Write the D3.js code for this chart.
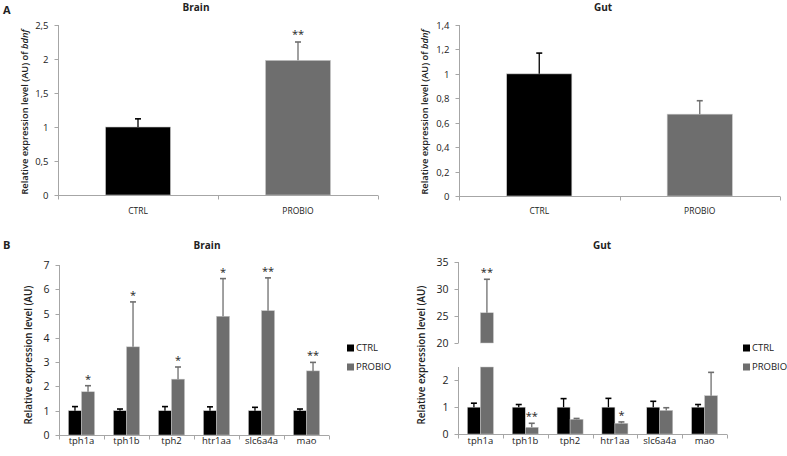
<!DOCTYPE html>
<html><head><meta charset="utf-8">
<script src="https://cdn.jsdelivr.net/npm/d3@7"></script>
<style>body{margin:0;background:#fff;} text{font-family:"Open Sans","DejaVu Sans",sans-serif;fill:#222;}</style>
</head><body><svg id="c" width="787" height="456"></svg>
<script>
// ---------- data ----------
const groups = ["CTRL", "PROBIO"];
const bdnfBrain = [1.0, 1.98];
const bdnfBrainErr = [0.12, 0.27];
const bdnfBrainSig = ["", "**"];
const bdnfGut = [1.0, 0.67];
const bdnfGutErr = [0.17, 0.11];
const bdnfGutSig = ["", ""];
const bdnfBrainTicks = ["0", "0,5", "1", "1,5", "2", "2,5"];
const bdnfGutTicks = ["0", "0,2", "0,4", "0,6", "0,8", "1", "1,2", "1,4"];

const genes = ["tph1a", "tph1b", "tph2", "htr1aa", "slc6a4a", "mao"];
const brainCtrl = [1, 1, 1, 1, 1, 1];
const brainCtrlErr = [0.17, 0.07, 0.17, 0.16, 0.14, 0.07];
const brainProbio = [1.78, 3.63, 2.3, 4.89, 5.12, 2.64];
const brainProbioErr = [0.25, 1.85, 0.5, 1.55, 1.35, 0.35];
const brainSig = ["*", "*", "*", "*", "**", "**"];
const gutCtrl = [1, 1, 1, 1, 1, 1];
const gutCtrlErr = [0.15, 0.1, 0.32, 0.33, 0.22, 0.1];
const gutProbio = [25.6, 0.25, 0.55, 0.4, 0.88, 1.43];
const gutProbioErr = [6.2, 0.15, 0.03, 0.05, 0.1, 0.87];
const gutSig = ["**", "**", "", "*", "", ""];

const colors = {CTRL: "#000000", PROBIO: "#6e6e6e"};
const axisColor = "#a6a6a6";

const svg = d3.select("#c");

function axisLine(g, x1, y1, x2, y2) {
  g.append("line").attr("x1", x1).attr("y1", y1).attr("x2", x2).attr("y2", y2)
    .attr("stroke", axisColor).attr("stroke-width", 1);
}

function yAxisDraw(g, y, ticks, labels, x0, fs) {
  const [r0, r1] = y.range();
  axisLine(g, x0, r0, x0, r1);
  ticks.forEach((t, i) => {
    const yy = Math.round(y(t)) + 0.5;
    axisLine(g, x0 - 4, yy, x0, yy);
    g.append("text").attr("x", x0 - 10).attr("y", yy).attr("dy", "0.35em")
      .attr("text-anchor", "end").attr("font-size", fs).text(labels[i]);
  });
}

function xAxisDraw(g, x, y0, fs, labelY) {
  const [a, b] = x.range();
  axisLine(g, a, y0, b, y0);
  const n = x.domain().length;
  for (let i = 0; i <= n; i++) {
    const xx = Math.round(a + i * (b - a) / n) + 0.5;
    axisLine(g, xx, y0, xx, y0 + 4);
  }
  x.domain().forEach(c => {
    g.append("text").attr("x", x(c) + x.bandwidth() / 2).attr("y", labelY)
      .attr("text-anchor", "middle").attr("font-size", fs).text(c);
  });
}

function errBar(g, cx, yTop, yVal, color) {
  g.append("line").attr("x1", cx).attr("x2", cx).attr("y1", yVal).attr("y2", yTop)
    .attr("stroke", color).attr("stroke-width", 1.3);
  g.append("line").attr("x1", cx - 3).attr("x2", cx + 3).attr("y1", yTop).attr("y2", yTop)
    .attr("stroke", color).attr("stroke-width", 1.6);
}

// ---------- panel A ----------
function panelA(cfg) {
  const g = svg.append("g");
  const x = d3.scaleBand().domain(groups).range([cfg.x0, cfg.x1]).paddingInner(0.594).paddingOuter(0.297);
  const y = d3.scaleLinear().domain([0, cfg.max]).range([cfg.y0, 25]);
  yAxisDraw(g, y, cfg.tickVals, cfg.tickLabels, cfg.x0 + 0.5, 9.5);
  groups.forEach((c, i) => {
    const v = cfg.vals[i], e = cfg.errs[i];
    g.append("rect").attr("x", x(c)).attr("width", x.bandwidth())
      .attr("y", y(v)).attr("height", y(0) - y(v)).attr("fill", colors[c])
      .attr("stroke", "#c8c8c8").attr("stroke-width", 0.6);
    errBar(g, x(c) + x.bandwidth() / 2, y(v + e), y(v), colors[c]);
    if (cfg.sig[i]) g.append("text").attr("x", x(c) + x.bandwidth() / 2).attr("y", y(v + e) - 4)
      .attr("text-anchor", "middle").attr("font-size", 11).text(cfg.sig[i]);
  });
  xAxisDraw(g, x, cfg.y0 + 0.5, 8.5, 214);
  g.append("text").attr("x", cfg.titleX).attr("y", 11).attr("text-anchor", "middle")
    .attr("font-size", 10).attr("font-weight", "bold").text(cfg.title);
  const lab = g.append("text").attr("transform", `translate(${cfg.labX},112) rotate(-90)`)
    .attr("text-anchor", "middle").attr("font-size", 9.3).attr("font-weight", 600);
  lab.append("tspan").text("Relative expression level (AU) of ");
  lab.append("tspan").attr("font-style", "italic").text("bdnf");
}
panelA({x0: 58, x1: 378, y0: 195, max: 2.5, vals: bdnfBrain, errs: bdnfBrainErr, sig: bdnfBrainSig,
  tickVals: [0, 0.5, 1, 1.5, 2, 2.5], tickLabels: bdnfBrainTicks, title: "Brain", titleX: 196, labX: 28});
panelA({x0: 459, x1: 780, y0: 196, max: 1.4, vals: bdnfGut, errs: bdnfGutErr, sig: bdnfGutSig,
  tickVals: [0, 0.2, 0.4, 0.6, 0.8, 1, 1.2, 1.4], tickLabels: bdnfGutTicks, title: "Gut", titleX: 603, labX: 428});

svg.append("text").attr("x", 3).attr("y", 14).attr("font-size", 11).attr("font-weight", "bold").text("A");
svg.append("text").attr("x", 3).attr("y", 249).attr("font-size", 11).attr("font-weight", "bold").text("B");

// ---------- panel B ----------
function groupedBars(g, x, xi, ctrl, ctrlErr, prob, probErr, sig, segs) {
  genes.forEach((gene, i) => {
    [["CTRL", ctrl[i], ctrlErr[i]], ["PROBIO", prob[i], probErr[i]]].forEach(([s, v, e]) => {
      const bx = x(gene) + xi(s), bw = xi.bandwidth();
      segs.forEach(seg => {
        const [d0, d1] = seg.domain();
        if (v <= d0) return;
        const top = Math.min(v, d1);
        g.append("rect").attr("x", bx).attr("width", bw)
          .attr("y", seg(top)).attr("height", seg(d0) - seg(top)).attr("fill", colors[s])
          .attr("stroke", "#c8c8c8").attr("stroke-width", 0.5);
      });
      const seg = segs.find(sc => v + e <= sc.domain()[1] && v >= sc.domain()[0]) || segs[segs.length - 1];
      errBar(g, bx + bw / 2, seg(v + e), seg(v), colors[s]);
      if (s === "PROBIO" && sig[i]) {
        g.append("text").attr("x", bx + bw / 2).attr("y", seg(v + e) - 3)
          .attr("text-anchor", "middle").attr("font-size", 11).text(sig[i]);
      }
    });
  });
}

function legend(g, x, y) {
  groups.forEach((s, i) => {
    g.append("rect").attr("x", x).attr("y", y + i * 19 - 3.5).attr("width", 7).attr("height", 7).attr("fill", colors[s]);
    g.append("text").attr("x", x + 9).attr("y", y + i * 19).attr("dy", "0.35em").attr("font-size", 9.5).text(s);
  });
}

// Brain B
{
  const g = svg.append("g");
  const x = d3.scaleBand().domain(genes).range([59, 329]).paddingInner(0.42).paddingOuter(0.21);
  const xi = d3.scaleBand().domain(groups).range([0, x.bandwidth()]);
  const y = d3.scaleLinear().domain([0, 7]).range([435, 265]);
  yAxisDraw(g, y, d3.range(0, 8), d3.range(0, 8).map(String), 59.5, 10.5);
  groupedBars(g, x, xi, brainCtrl, brainCtrlErr, brainProbio, brainProbioErr, brainSig, [y]);
  xAxisDraw(g, x, 435.5, 9.5, 444);
  g.append("text").attr("x", 207).attr("y", 249).attr("text-anchor", "middle")
    .attr("font-size", 10).attr("font-weight", "bold").text("Brain");
  g.append("text").attr("transform", "translate(32,355) rotate(-90)").attr("text-anchor", "middle")
    .attr("font-size", 9.8).attr("font-weight", 600).text("Relative expression level (AU)");
  legend(g, 347, 348);
}

// Gut B (broken axis)
{
  const g = svg.append("g");
  const x = d3.scaleBand().domain(genes).range([458, 727]).paddingInner(0.42).paddingOuter(0.21);
  const xi = d3.scaleBand().domain(groups).range([0, x.bandwidth()]);
  const yLow = d3.scaleLinear().domain([0, 2.5]).range([434, 367]);
  const yHigh = d3.scaleLinear().domain([20, 35]).range([343, 262]);
  yAxisDraw(g, yLow, [0, 1, 2], ["0", "1", "2"], 458.5, 10.5);
  yAxisDraw(g, yHigh, [20, 25, 30, 35], ["20", "25", "30", "35"], 458.5, 10.5);
  groupedBars(g, x, xi, gutCtrl, gutCtrlErr, gutProbio, gutProbioErr, gutSig, [yLow, yHigh]);
  xAxisDraw(g, x, 434.5, 9.5, 444);
  g.append("text").attr("x", 602).attr("y", 249).attr("text-anchor", "middle")
    .attr("font-size", 10).attr("font-weight", "bold").text("Gut");
  g.append("text").attr("transform", "translate(425,355) rotate(-90)").attr("text-anchor", "middle")
    .attr("font-size", 9.8).attr("font-weight", 600).text("Relative expression level (AU)");
  legend(g, 743, 348);
}
</script></body></html>
